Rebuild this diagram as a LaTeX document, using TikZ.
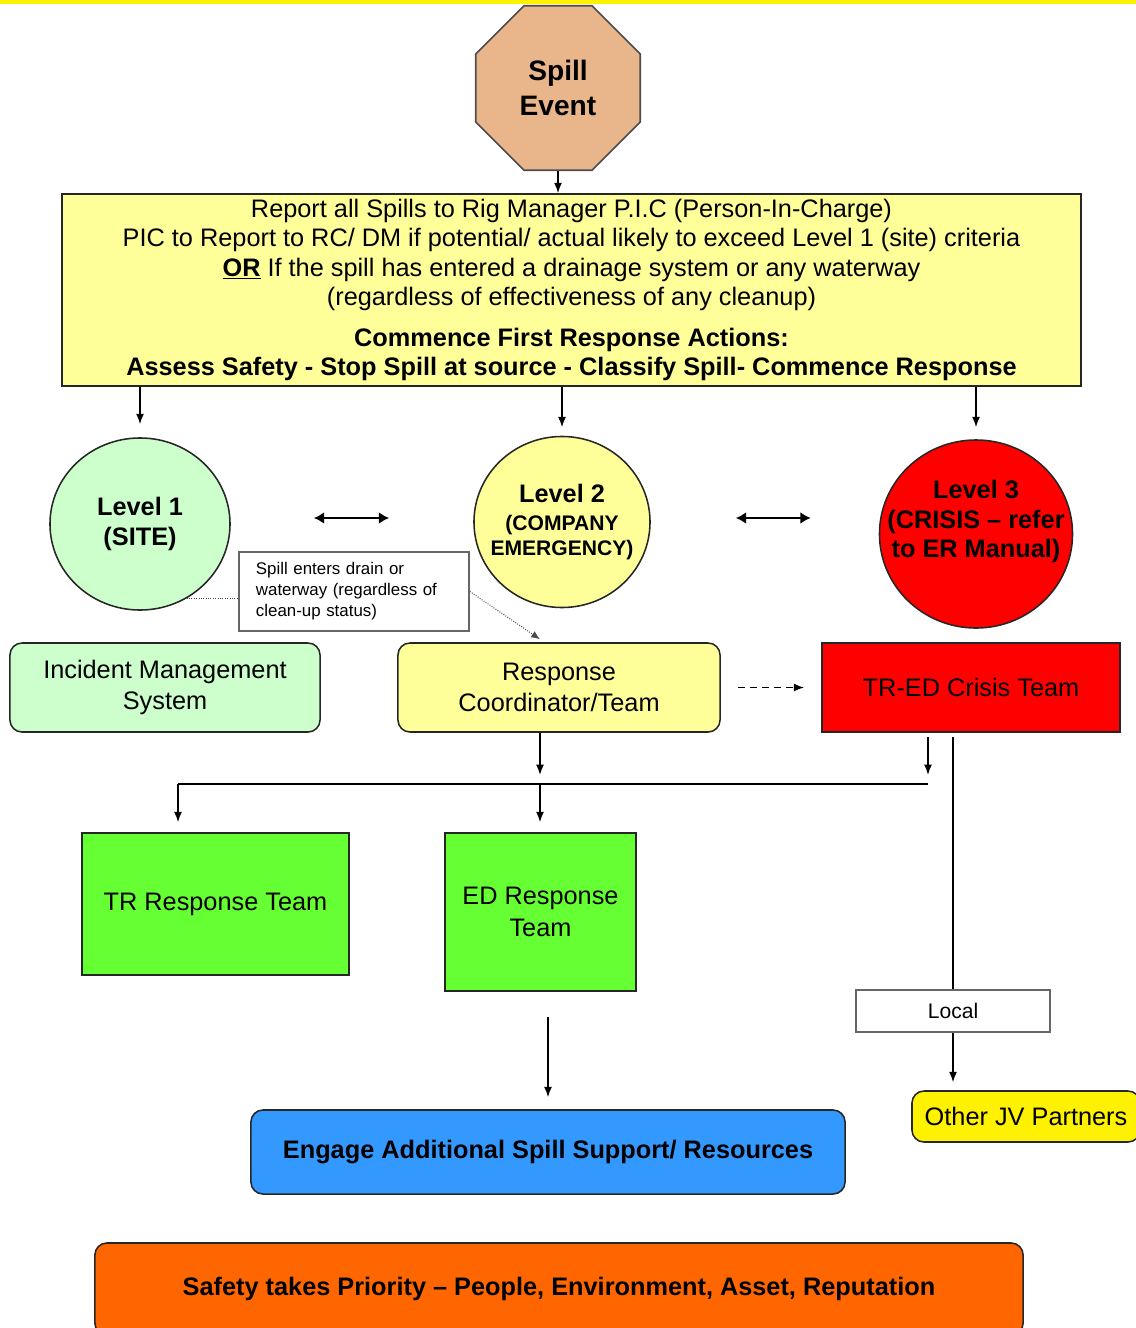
\documentclass[tikz,border=0pt]{standalone}
\usepackage{fontspec}
\setmainfont{Liberation Sans}
\usepackage{tikz}
\usepackage{color,xcolor}
\usetikzlibrary{shapes.geometric,arrows.meta,calc}

\definecolor{spilltan}{RGB}{233,181,138}
\definecolor{paleyellow}{RGB}{255,255,153}
\definecolor{palegreen}{RGB}{204,255,204}
\definecolor{teamgreen}{RGB}{102,255,51}
\definecolor{supportblue}{RGB}{51,153,255}
\definecolor{safetyorange}{RGB}{255,102,0}

\newcommand\lvline[1]{\makebox[0pt]{#1}}
\newcommand\lvsmall{\fontsize{15pt}{18pt}\selectfont}

\tikzset{
  box/.style={draw=black!85, line width=1.1pt, align=center, inner sep=2pt},
  roundbox/.style={box, rounded corners=0.3cm},
  level/.style={ellipse, draw=black!85, line width=1.1pt, align=center, inner sep=0pt, font=\fontsize{18pt}{21pt}\selectfont\bfseries},
  big/.style={font=\fontsize{18pt}{22.5pt}\selectfont},
  arr/.style={-{Latex[length=0.26cm,width=0.2cm]}, line width=1.1pt},
  both/.style={{Latex[length=0.26cm,width=0.3cm]}-{Latex[length=0.26cm,width=0.3cm]}, line width=1.8pt},
  line/.style={line width=1.1pt},
  dots/.style={densely dotted, draw=black!70, line width=0.7pt},
}

\begin{document}
\begin{tikzpicture}[x=0.025cm, y=-0.025cm]
  \useasboundingbox (0,0) rectangle (1136,1328);
  \fill[yellow] (0,0) rectangle (1136,4); % top strip

  \node[regular polygon, regular polygon sides=8, minimum size=4.45cm, draw=black!70, line width=1.1pt, fill=spilltan, align=center, font=\fontsize{20pt}{25pt}\selectfont\bfseries] (spill) at (558,88) {Spill\\Event};

  \node[box, fill=paleyellow, minimum width=25.475cm, minimum height=4.8cm, font=\fontsize{18pt}{21pt}\selectfont] (report) at (571.5,290) {Report all Spills to Rig Manager P.I.C (Person-In-Charge)\\PIC to Report to RC/ DM if potential/ actual likely to exceed Level 1 (site) criteria\\\underline{\textbf{OR}} If the spill has entered a drainage system or any waterway\\(regardless of effectiveness of any cleanup)\\[8pt]\textbf{Commence First Response Actions:}\\\textbf{Assess Safety - Stop Spill at source - Classify Spill- Commence Response}};

  % levels
  \node[level, fill=palegreen, minimum width=4.5cm, minimum height=4.3cm] (l1) at (140,524) {Level 1\\(SITE)};
  \node[level, fill=paleyellow, minimum width=4.4cm, minimum height=4.275cm] (l2) at (562,522) {\lvline{Level 2}\\[-1pt]\lvline{\lvsmall (COMPANY}\\[-3pt]\lvline{\lvsmall EMERGENCY)}};
  \node[level, fill=red, minimum width=4.825cm, minimum height=4.7cm] (l3) at (976,534) {\lvline{Level 3}\\\lvline{(CRISIS – refer}\\\lvline{to ER Manual)}\\\mbox{}};

  \node[box, draw=black!60, fill=white, text width=4.9cm, inner xsep=0.425cm, minimum height=1.975cm, align=left, font=\fontsize{12pt}{15pt}\selectfont] (note) at (354,591.5) {Spill enters drain or\\waterway (regardless of\\clean-up status)};

  % teams
  \node[roundbox, big, fill=palegreen, minimum width=7.75cm, minimum height=2.225cm] (ims) at (165,687.5) {Incident Management\\System};
  \node[roundbox, big, fill=paleyellow, minimum width=8.05cm, minimum height=2.225cm] (rc) at (559,687.5) {Response\\Coordinator/Team};
  \node[box, big, fill=red, minimum width=7.45cm, minimum height=2.225cm] (crisis) at (971,687.5) {TR-ED Crisis Team};
  \node[box, big, fill=teamgreen, minimum width=6.675cm, minimum height=3.55cm] (tr) at (215.5,904) {TR Response Team};
  \node[box, big, fill=teamgreen, minimum width=4.775cm, minimum height=3.95cm] (ed) at (540.5,912) {ED Response\\Team};
  \node[box, draw=black!60, fill=white, minimum width=4.85cm, minimum height=1.05cm, font=\fontsize{15pt}{18pt}\selectfont] (local) at (953,1011) {Local};
  \node[roundbox, big, fill=yellow, minimum width=5.7cm, minimum height=1.275cm] (jv) at (1026,1116.5) {Other JV Partners};
  \node[roundbox, fill=supportblue, minimum width=14.85cm, minimum height=2.1cm, font=\fontsize{18pt}{22pt}\selectfont\bfseries] (engage) at (548,1152) {Engage Additional Spill Support/ Resources};
  \node[roundbox, fill=safetyorange, minimum width=23.2cm, minimum height=2.3cm, font=\fontsize{18pt}{22pt}\selectfont\bfseries] (safety) at (559,1289) {Safety takes Priority – People, Environment, Asset, Reputation};

  % connectors
  \draw[arr] (spill.south) -- (spill.south |- report.north);
  \draw[arr, shorten >=0.325cm] (report.south -| l1.north) -- (l1.north);
  \draw[arr, shorten >=0.21cm] (report.south -| l2.north) -- (l2.north);
  \draw[arr, shorten >=0.3cm] (report.south -| l3.north) -- (l3.north);
  \draw[both, shorten <=2.075cm, shorten >=2.1cm] ([yshift=0.15cm]l1.east) -- ([yshift=0.15cm]l1.east -| l2.west);
  \draw[both, shorten <=2.125cm, shorten >=1.7cm] ([yshift=0.1cm]l2.east) -- ([yshift=0.1cm]l2.east -| l3.west);
  \draw[dots] (l1.-58) -- (l1.-58 -| note.west);
  \draw[dots, -{Latex[length=0.22cm,width=0.18cm]}] (note.east) -- ($(rc.north)+(-19,-3)$);
  \draw[arr, dash pattern=on 5pt off 3.5pt, shorten <=0.425cm, shorten >=0.425cm] (rc.east) -- (crisis.west);

  \coordinate (busL) at (178,784);
  \coordinate (busM) at (540,784);
  \coordinate (busR) at (928,784);
  \draw[arr, shorten >=0.225cm] (rc.south -| busM) -- (busM);
  \draw[arr, shorten <=0.1cm, shorten >=0.225cm] (crisis.south -| busR) -- (busR);
  \draw[line] (busL) -- (busR);
  \draw[arr, shorten >=0.25cm] (busL) -- (busL |- tr.north);
  \draw[arr, shorten >=0.25cm] (busM) -- (busM |- ed.north);
  \draw[line, shorten <=0.1cm] (crisis.south -| local.north) -- (local.north);
  \draw[arr, shorten >=0.2cm] (local.south) -- (local.south |- jv.north);
  \draw[arr, shorten <=0.625cm, shorten >=0.3cm] (ed.south -| engage.north) -- (engage.north);
\end{tikzpicture}
\end{document}
